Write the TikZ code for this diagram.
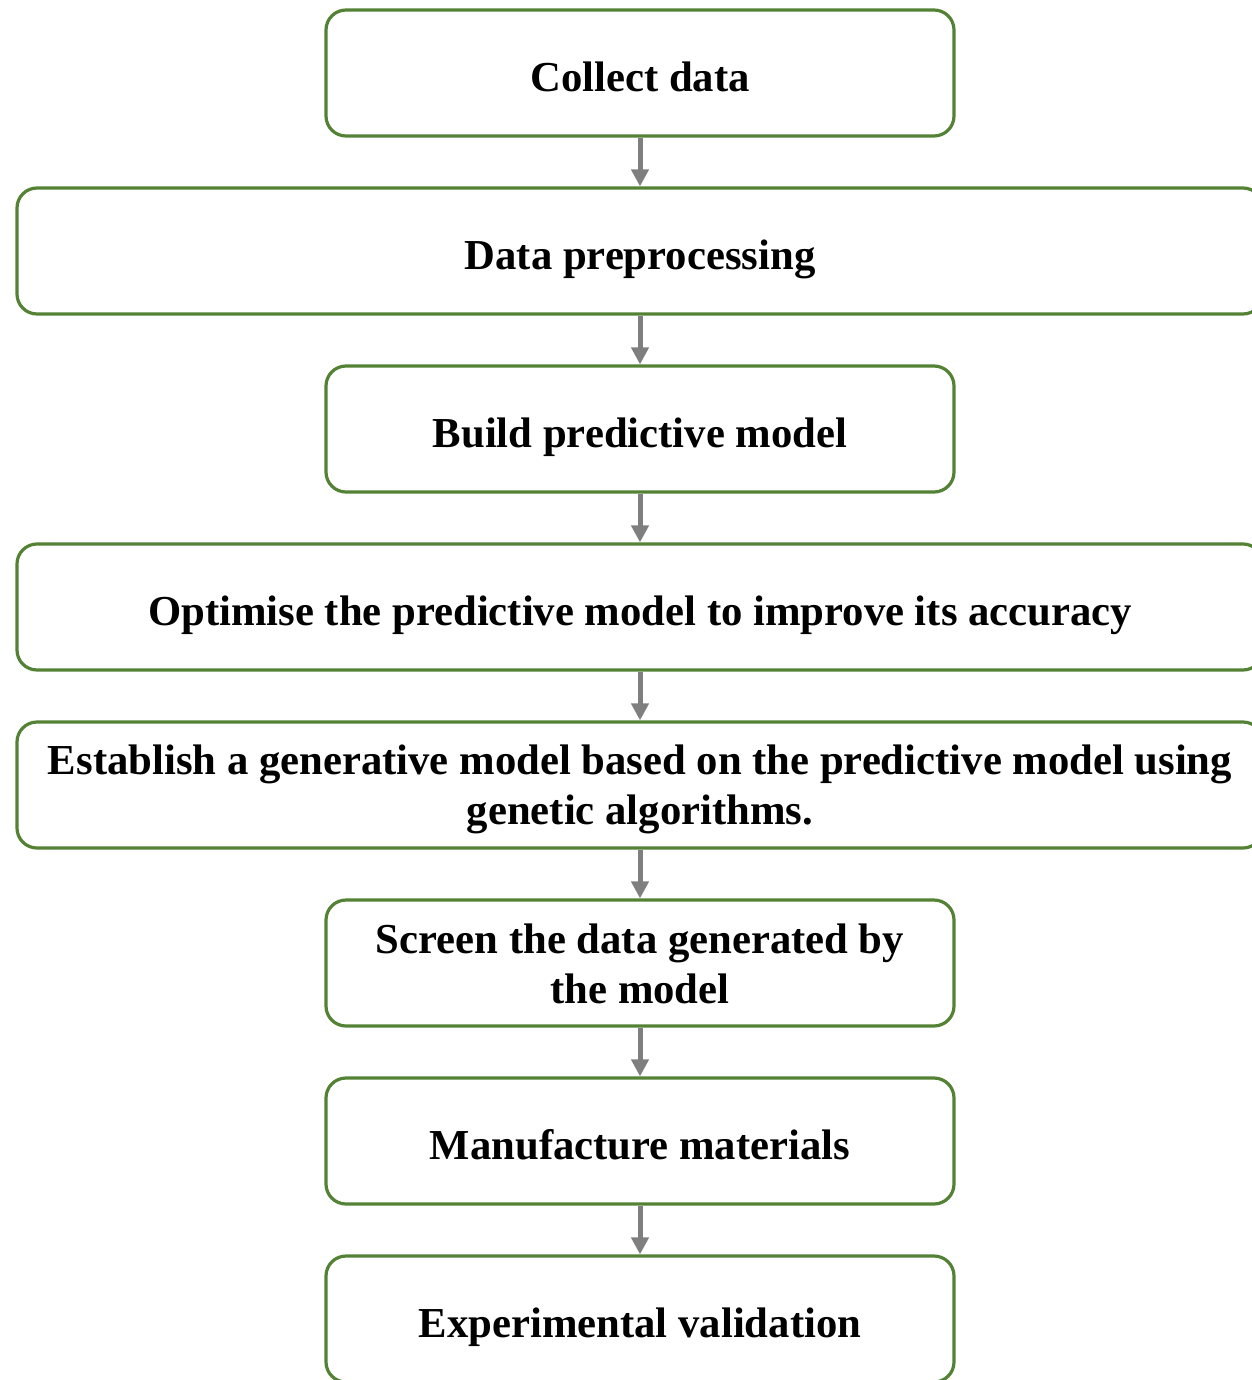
\documentclass[tikz,border=0pt]{standalone}
\usepackage{fontspec}
\setmainfont{Liberation Serif}
\usetikzlibrary{arrows.meta}
\definecolor{cgreen}{HTML}{548235}
\definecolor{cgrey}{HTML}{7F7F7F}
\newcommand\linestrut{\rule[-0.216em]{0pt}{\dimexpr1.107em+8pt\relax}}
\newcommand\firststrut{\rule{0pt}{\dimexpr1.107em-8pt\relax}}
\tikzset{
  every picture/.style={x=1pt, y=1pt},
  stage/.style={draw=cgreen, line width=3.2pt, fill=white, rounded corners=20pt, align=center,
    minimum height=126pt, inner sep=0pt, font=\fontsize{42.7}{50}\selectfont\bfseries,
    execute at begin node=\linestrut, execute at end node=\linestrut},
  narrow/.style={stage, minimum width=628pt},
  wide/.style={stage, minimum width=1246pt},
  arrow/.style={-{Triangle[length=17pt, width=17pt]}, draw=cgrey, line width=5pt},
}
\begin{document}
\begin{tikzpicture}
  \useasboundingbox (0,0) rectangle (1251,-1380);
  \node[narrow] (collect) at (640,-73) {Collect data};
  \node[wide] (prep) at (640,-251) {Data preprocessing};
  \node[narrow] (build) at (640,-429) {Build predictive model};
  \node[wide] (optim) at (640,-607) {Optimise the predictive model to improve its accuracy};
  \node[wide] (gen) at (640,-785) {\firststrut Establish a generative model based on the predictive model using\\genetic algorithms.};
  \node[narrow] (screen) at (640,-963) {\firststrut Screen the data generated by\\the model};
  \node[narrow] (make) at (640,-1141) {Manufacture materials};
  \node[narrow] (valid) at (640,-1319) {Experimental validation};
  \foreach \a/\b in {collect/prep, prep/build, build/optim, optim/gen, gen/screen, screen/make, make/valid}
    \draw[arrow] (\a.south) -- (\b.north);
\end{tikzpicture}
\end{document}
